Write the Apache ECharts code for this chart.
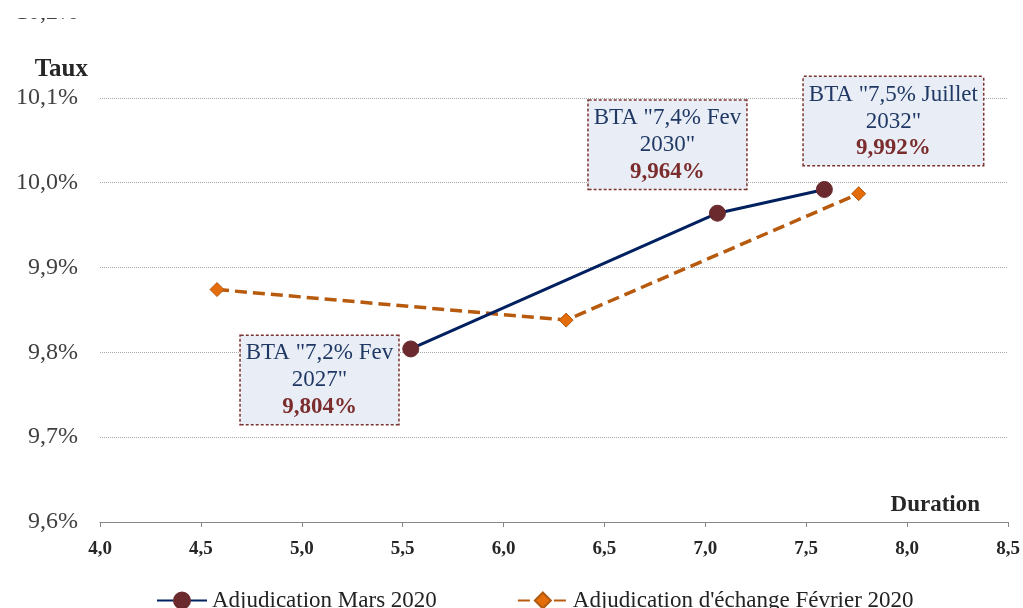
<!DOCTYPE html>
<html>
<head>
<meta charset="utf-8">
<script src="https://cdn.jsdelivr.net/npm/echarts@6/dist/echarts.min.js"></script>
<style>html,body{margin:0;padding:0;background:#fff;}#c{width:1023px;height:608px;}</style>
</head>
<body>
<div id="c"></div>
<script>
// ---- data ----
var seriesNames = ['Adjudication Mars 2020', "Adjudication d'échange Février 2020"];
var marsDuration = [5.54, 7.06, 7.59];
var marsTaux = [9.804, 9.964, 9.992];
var marsBonds = ['BTA "7,2% Fev\n2027"', 'BTA "7,4% Fev\n2030"', 'BTA "7,5% Juillet\n2032"'];
var fevDuration = [4.58, 6.31, 7.76];
var fevTaux = [9.874, 9.838, 9.987];
var xTicks = { min: 4.0, max: 8.5, interval: 0.5 };
var yTicks = { min: 9.6, max: 10.2, interval: 0.1 };

var FONT = '"Liberation Serif", "DejaVu Serif", serif';
function fr(v, d) { return v.toFixed(d).replace('.', ','); }

var labelPlacement = [
  { position: 'left', distance: 4, dx: 0, dy: 31 },
  { position: 'top', distance: 16, dx: -50, dy: 0 },
  { position: 'top', distance: 16, dx: 69, dy: 0 }
];

var marsData = marsDuration.map(function (x, i) {
  var p = labelPlacement[i];
  return {
    value: [x, marsTaux[i]],
    label: {
      show: true,
      position: p.position,
      distance: p.distance,
      formatter: '{t|' + marsBonds[i].split('\n').join('}\n{t|') + '}\n{v|' + fr(marsTaux[i], 3) + '%}'
    }
  };
});
var fevData = fevDuration.map(function (x, i) { return [x, fevTaux[i]]; });

var chart = echarts.init(document.getElementById('c'), null, { renderer: 'canvas' });
chart.setOption({
  animation: false,
  backgroundColor: '#ffffff',
  textStyle: { fontFamily: FONT },
  grid: { left: 100, right: 15, top: 13, bottom: 86, containLabel: false },
  xAxis: {
    type: 'value',
    min: xTicks.min, max: xTicks.max, interval: xTicks.interval,
    name: 'Duration',
    nameLocation: 'end',
    nameGap: -28,
    nameTextStyle: { fontFamily: FONT, fontSize: 23, fontWeight: 'bold', color: '#262626', align: 'right', verticalAlign: 'bottom', padding: [0, 0, 5, 0] },
    axisLine: { show: true, lineStyle: { color: '#868686', width: 1.2 } },
    axisTick: { show: true, length: 5, lineStyle: { color: '#868686' } },
    splitLine: { show: false },
    axisLabel: { fontFamily: FONT, fontSize: 19, fontWeight: 'bold', color: '#262626', margin: 18, formatter: function (v) { return fr(v, 1); } }
  },
  yAxis: {
    type: 'value',
    min: yTicks.min, max: yTicks.max, interval: yTicks.interval,
    name: 'Taux',
    nameLocation: 'end',
    nameGap: -57,
    nameTextStyle: { fontFamily: FONT, fontSize: 25, fontWeight: 'bold', color: '#262626', align: 'right', verticalAlign: 'middle', padding: [0, 12, 0, 0] },
    axisLine: { show: false },
    axisTick: { show: false },
    splitLine: { show: true, lineStyle: { color: '#a6a6a6', type: 'dotted', width: 1 } },
    axisLabel: { fontFamily: FONT, fontSize: 24, color: '#404040', margin: 22, formatter: function (v) { return fr(v, 1) + '%'; } }
  },
  legend: {
    left: 151,
    top: 584,
    itemWidth: 50,
    itemHeight: 20,
    itemGap: 80,
    textStyle: { fontFamily: FONT, fontSize: 23, color: '#222' },
    data: seriesNames
  },
  series: [
    {
      name: seriesNames[0],
      type: 'line',
      data: marsData,
      z: 3,
      symbol: 'circle',
      symbolSize: 16,
      itemStyle: { color: '#6B2A2E', borderColor: '#6B2A2E', borderWidth: 1 },
      lineStyle: { color: '#002060', width: 3 },
      label: {
        backgroundColor: '#E9EEF6',
        borderColor: '#7B3434',
        borderWidth: 1.5,
        borderType: [3, 2],
        padding: [4, 5, 3, 5],
        rich: {
          t: { fontFamily: FONT, fontSize: 23, color: '#1F3864', lineHeight: 27, align: 'center' },
          v: { fontFamily: FONT, fontSize: 23, fontWeight: 'bold', color: '#7B2C2C', lineHeight: 27, align: 'center' }
        }
      },
      labelLayout: function (params) {
        var p = labelPlacement[params.dataIndex];
        return { dx: p.dx, dy: p.dy, hideOverlap: false };
      }
    },
    {
      name: seriesNames[1],
      type: 'line',
      data: fevData,
      z: 2,
      symbol: 'diamond',
      symbolSize: 14,
      itemStyle: { color: '#E46C0A', borderColor: '#B05A10', borderWidth: 1 },
      lineStyle: { color: '#B85A0E', width: 3.5, type: [12, 6] }
    }
  ],
  graphic: [
    { type: 'rect', left: 0, top: 0, z: 100, shape: { width: 1023, height: 18 }, style: { fill: '#ffffff' } }
  ]
});
</script>
</body>
</html>
